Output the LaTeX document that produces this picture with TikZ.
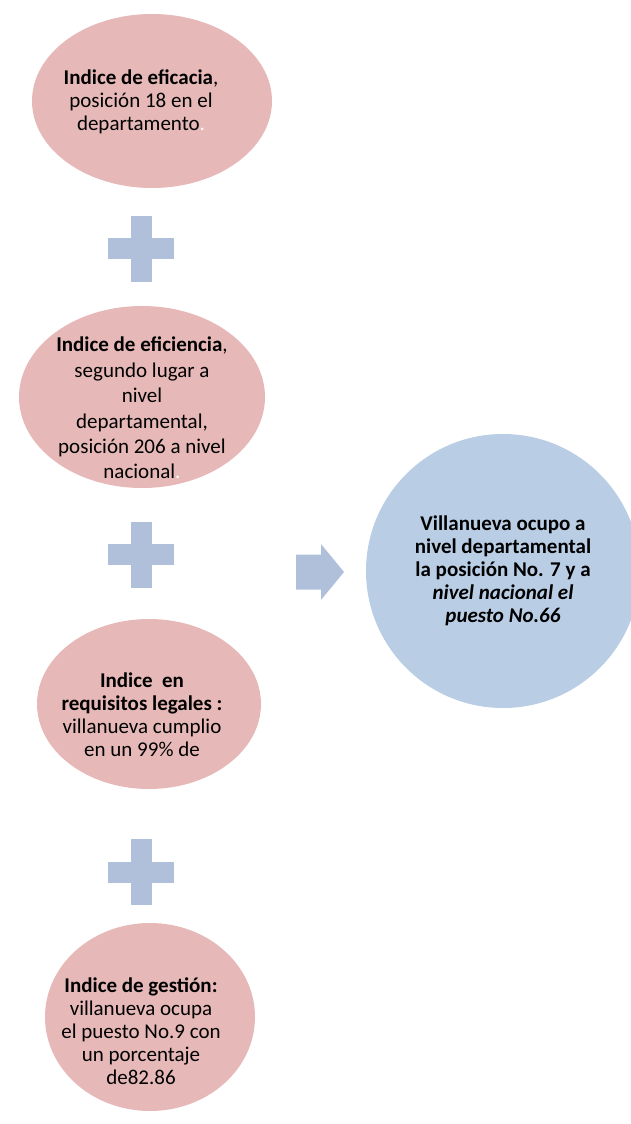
\documentclass[tikz,border=0pt]{standalone}
\usepackage{fontspec}
\setmainfont{Carlito}
\usetikzlibrary{shapes.geometric}
\definecolor{pinkfill}{HTML}{E6B9B8}
\definecolor{bluefill}{HTML}{B9CDE5}
\definecolor{plusfill}{HTML}{B0C0DB}
\tikzset{
  oval/.style={ellipse, fill=pinkfill, draw=none, inner sep=0pt},
  bigcircle/.style={ellipse, fill=bluefill, draw=none, inner sep=0pt},
  txt/.style={align=center, inner sep=0pt, text=black, font=\fontsize{21}{23}\selectfont},
  plussign/.pic={
    \fill[plusfill] (-33,-10.5) rectangle (33,10.5);
    \fill[plusfill] (-10.5,-33) rectangle (10.5,33);
  },
  rightarrow/.pic={
    \fill[plusfill] (-24,-17.5) -- (1,-17.5) -- (1,-28) -- (24,0) -- (1,28) -- (1,17.5) -- (-24,17.5) -- cycle;
  }
}
\begin{document}
\begin{tikzpicture}[x=1pt,y=-1pt]
\useasboundingbox (0,0) rectangle (631,1124);
\begin{scope}
\clip (0,0) rectangle (631,1124);
% ellipses
\node[oval, minimum width=240pt, minimum height=174pt] (e1) at (152,101) {};
\node[oval, minimum width=246pt, minimum height=182pt] (e2) at (142,397) {};
\node[oval, minimum width=224pt, minimum height=170pt] (e3) at (149,704) {};
\node[oval, minimum width=210pt, minimum height=188pt] (e4) at (150,1017) {};
\node[bigcircle, minimum width=274pt, minimum height=274pt] (res) at (503,571) {};
% plus signs and arrow
\pic (p1) at (141,248.5) {plussign};
\pic (p2) at (141,554.5) {plussign};
\pic (p3) at (141,872) {plussign};
\pic (ar) at (320,572) {rightarrow};
% texts
\node[txt] (t1) at (141,102) {\textbf{Indice de eficacia},\\posición 18 en el\\departamento\textcolor{white}{.}};
\node[txt, font=\fontsize{21}{25.4}\selectfont] (t2) at (142,408) {\textbf{Indice de eficiencia},\\segundo lugar a\\nivel\\departamental,\\posición 206 a nivel\\nacional\textcolor{white}{.}};
\node[txt] (t3) at (142,715) {\textbf{Indice\ \ en}\\\textbf{requisitos legales :}\\villanueva cumplio\\en un 99\% de};
\node[txt] (t4) at (141,1031) {\textbf{Indice de gestión:}\\villanueva ocupa\\el puesto No.9 con\\un porcentaje\\de82.86};
\node[txt, font=\bfseries\fontsize{21}{23}\selectfont] (t5) at (503,571) {Villanueva ocupo a\\nivel departamental\\la posición No. 7 y a\\\textit{nivel nacional el}\\\textit{puesto No.66}};
\end{scope}
\end{tikzpicture}
\end{document}
